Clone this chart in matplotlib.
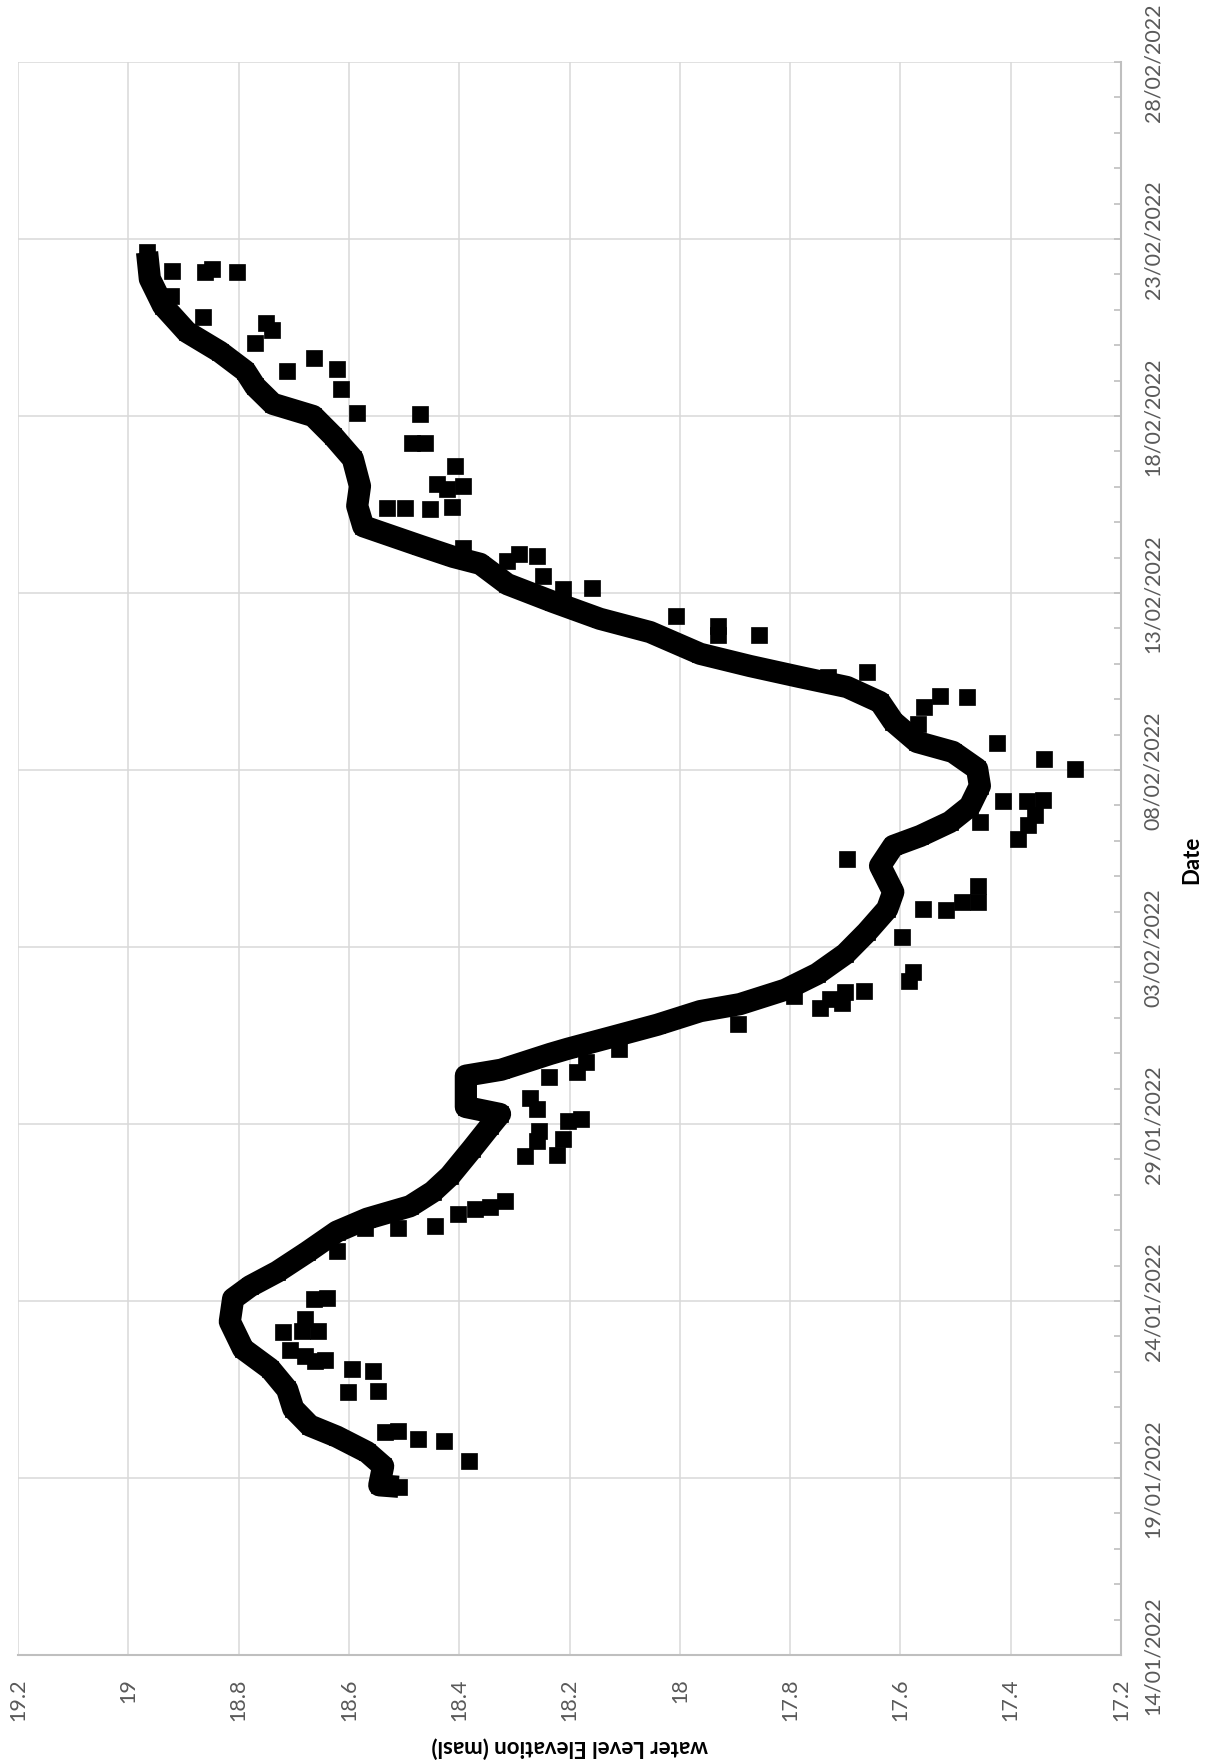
import matplotlib
matplotlib.use("Agg")
import matplotlib.pyplot as plt
import matplotlib.dates as mdates
import matplotlib.ticker as mticker
import pandas as pd

# continuous logger record (masl)
trace_time = [
    "2022-01-18 18:00", "2022-01-18 19:00", "2022-01-19 08:00", "2022-01-19 17:30",
    "2022-01-20 04:00", "2022-01-20 11:30", "2022-01-20 23:00", "2022-01-21 12:00",
    "2022-01-22 02:00", "2022-01-22 15:30", "2022-01-23 10:00", "2022-01-24 01:30",
    "2022-01-24 10:00", "2022-01-24 19:45", "2022-01-25 09:00", "2022-01-25 23:00",
    "2022-01-26 07:45", "2022-01-26 16:15", "2022-01-27 02:00", "2022-01-27 12:45",
    "2022-01-28 07:00", "2022-01-28 22:30", "2022-01-29 06:45", "2022-01-29 11:30",
    "2022-01-30 08:45", "2022-01-30 12:45", "2022-01-30 23:30", "2022-01-31 03:00",
    "2022-01-31 11:00", "2022-01-31 19:15", "2022-02-01 04:30", "2022-02-01 09:15",
    "2022-02-01 19:00", "2022-02-02 05:45", "2022-02-02 19:15", "2022-02-03 10:00",
    "2022-02-04 01:45", "2022-02-04 13:15", "2022-02-05 07:00", "2022-02-05 20:30",
    "2022-02-06 03:15", "2022-02-06 12:45", "2022-02-06 23:30", "2022-02-07 13:15",
    "2022-02-08 00:45", "2022-02-08 12:15", "2022-02-08 19:00", "2022-02-09 08:45",
    "2022-02-09 22:00", "2022-02-10 08:15", "2022-02-10 15:00", "2022-02-10 22:30",
    "2022-02-11 06:45", "2022-02-11 21:30", "2022-02-12 06:30", "2022-02-12 18:00",
    "2022-02-13 06:00", "2022-02-13 19:45", "2022-02-14 00:30", "2022-02-14 08:00",
    "2022-02-14 21:15", "2022-02-15 11:00", "2022-02-16 00:30", "2022-02-16 19:00",
    "2022-02-17 10:30", "2022-02-18 00:00", "2022-02-18 08:15", "2022-02-18 20:00",
    "2022-02-19 06:30", "2022-02-19 19:30", "2022-02-20 09:00", "2022-02-21 02:45",
    "2022-02-21 21:00", "2022-02-22 15:00",
]
trace_level = [
    18.510, 18.545, 18.538, 18.567,
    18.622, 18.671, 18.701, 18.712,
    18.743, 18.792, 18.816, 18.810,
    18.779, 18.730, 18.676, 18.622,
    18.567, 18.489, 18.448, 18.417,
    18.377, 18.344, 18.326, 18.388,
    18.388, 18.324, 18.235, 18.203,
    18.123, 18.041, 17.963, 17.891,
    17.809, 17.751, 17.700, 17.661,
    17.624, 17.613, 17.637, 17.613,
    17.564, 17.510, 17.474, 17.456,
    17.461, 17.505, 17.570, 17.613,
    17.637, 17.697, 17.782, 17.873,
    17.963, 18.054, 18.145, 18.230,
    18.313, 18.362, 18.411, 18.471,
    18.574, 18.585, 18.580, 18.593,
    18.629, 18.665, 18.738, 18.770,
    18.788, 18.834, 18.894, 18.937,
    18.961, 18.966,
]

# scattered readings off the main record
spike_time = [
    "2022-01-24 01:30", "2022-01-24 02:00", "2022-01-23 11:45", "2022-01-23 03:00",
    "2022-01-23 03:30", "2022-01-23 03:45", "2022-01-22 15:00", "2022-01-22 10:45",
    "2022-01-22 07:30", "2022-01-22 07:45", "2022-01-22 02:00", "2022-01-22 00:30",
    "2022-01-21 10:15", "2022-01-21 11:00", "2022-01-20 07:15", "2022-01-20 07:30",
    "2022-01-20 02:30", "2022-01-20 01:15", "2022-01-19 11:30",
    "2022-01-28 02:30", "2022-01-28 02:45", "2022-01-26 19:45", "2022-01-26 11:00",
    "2022-01-26 14:30", "2022-01-26 15:45", "2022-01-26 03:00", "2022-01-26 01:30",
    "2022-01-26 01:15", "2022-01-25 09:45",
    "2022-01-28 14:00", "2022-01-28 19:15", "2022-01-28 12:30", "2022-01-29 02:00",
    "2022-01-29 03:15", "2022-01-29 17:30", "2022-01-29 10:00", "2022-01-30 08:00",
    "2022-01-30 11:15", "2022-01-30 18:00", "2022-01-31 03:00", "2022-01-31 19:45",
    "2022-02-01 06:45",
    "2022-02-05 11:45", "2022-02-04 17:15", "2022-02-04 06:30", "2022-02-04 06:45",
    "2022-02-04 01:15", "2022-02-04 01:45", "2022-02-03 06:45", "2022-02-02 07:00",
    "2022-02-02 01:00", "2022-02-01 18:15", "2022-02-01 17:30", "2022-02-01 10:00",
    "2022-02-01 12:45", "2022-02-01 15:00",
    "2022-02-10 18:30", "2022-02-09 18:45", "2022-02-10 02:15", "2022-02-10 01:30",
    "2022-02-09 07:15", "2022-02-08 18:15", "2022-02-08 07:30", "2022-02-08 00:45",
    "2022-02-07 03:00", "2022-02-07 03:15", "2022-02-07 03:30", "2022-02-06 17:30",
    "2022-02-06 10:45", "2022-02-06 01:15", "2022-02-06 12:45", "2022-02-10 15:00",
    "2022-02-14 06:30", "2022-02-13 21:30", "2022-02-14 02:30", "2022-02-14 01:15",
    "2022-02-13 11:30", "2022-02-13 02:45", "2022-02-13 03:15", "2022-02-12 08:30",
    "2022-02-12 01:45", "2022-02-11 19:30", "2022-02-11 19:45",
    "2022-02-22 01:45", "2022-02-22 03:30", "2022-02-22 01:30", "2022-02-21 09:15",
    "2022-02-20 19:15", "2022-02-20 15:00", "2022-02-20 10:15", "2022-02-20 01:30",
    "2022-02-19 15:15", "2022-02-19 08:00", "2022-02-18 18:15", "2022-02-18 02:00",
    "2022-02-18 01:30", "2022-02-17 05:45", "2022-02-17 06:00", "2022-02-16 14:15",
    "2022-02-16 02:00", "2022-02-15 22:30", "2022-02-16 00:30", "2022-02-15 09:30",
    "2022-02-15 09:45", "2022-02-15 09:00", "2022-02-15 10:15", "2022-02-19 06:30",
    "2022-02-22 02:30",
]
spike_level = [
    18.663, 18.640, 18.680, 18.720,
    18.685, 18.656, 18.707, 18.680,
    18.661, 18.643, 18.594, 18.556,
    18.602, 18.547, 18.535, 18.511,
    18.475, 18.428, 18.382,
    18.281, 18.223, 18.317, 18.402,
    18.371, 18.344, 18.444, 18.511,
    18.571, 18.622,
    18.212, 18.255, 18.259, 18.203,
    18.179, 18.272, 18.259, 18.237,
    18.186, 18.170, 18.110, 17.894,
    17.746,
    17.697, 17.459, 17.488, 17.459,
    17.517, 17.559, 17.597, 17.577,
    17.584, 17.666, 17.700, 17.706,
    17.728, 17.793,
    17.661, 17.557, 17.528, 17.479,
    17.568, 17.425, 17.340, 17.283,
    17.414, 17.370, 17.341, 17.356,
    17.369, 17.387, 17.456, 17.731,
    18.393, 18.313, 18.292, 18.259,
    18.248, 18.212, 18.159, 18.007,
    17.931, 17.931, 17.856,
    18.861, 18.848, 18.803, 18.923,
    18.865, 18.750, 18.739, 18.770,
    18.663, 18.622, 18.614, 18.585,
    18.471, 18.486, 18.462, 18.408,
    18.440, 18.422, 18.393, 18.531,
    18.498, 18.453, 18.413, 18.712,
    18.921,
]

level_ticks = [19.2, 19.0, 18.8, 18.6, 18.4, 18.2, 18.0, 17.8, 17.6, 17.4, 17.2]
date_ticks = pd.date_range("2022-01-14", "2022-02-28", freq="5D")

trace_t = pd.to_datetime(trace_time)
spike_t = pd.to_datetime(spike_time)

GREY_TXT = "#595959"
GRID = "#d9d9d9"
AXIS = "#bfbfbf"
FONT = "Lato"

fig = plt.figure(figsize=(12.10, 17.65), dpi=100)
ax = fig.add_axes([0.0149, 0.0618, 0.9116, 0.9025])

# level runs along x (high on the left), time runs upward
ax.plot(trace_level, trace_t, "-", color="black", lw=16,
        solid_joinstyle="round", solid_capstyle="butt", zorder=3)
ax.plot(trace_level, trace_t, "s", color="black", ms=11, mew=0.5, zorder=3)
ax.plot(spike_level, spike_t, "s", color="black", ms=11, mew=0.5,
        linestyle="none", zorder=3)

ax.set_xlim(19.2, 17.2)
ax.set_xticks(level_ticks)
ax.xaxis.set_major_formatter(mticker.FuncFormatter(lambda v, p: f"{round(v, 1):g}"))
ax.set_ylim(date_ticks[0], date_ticks[-1])
ax.set_yticks(date_ticks)
ax.yaxis.set_major_formatter(mdates.DateFormatter("%d/%m/%Y"))
ax.yaxis.set_minor_locator(mdates.DayLocator())
ax.yaxis.tick_right()

ax.grid(True, which="major", color=GRID, lw=1.1, zorder=0)
ax.set_axisbelow(True)

for side in ("left", "top"):
    ax.spines[side].set_visible(False)
for side in ("right", "bottom"):
    ax.spines[side].set_color(AXIS)
    ax.spines[side].set_linewidth(1.5)

ax.tick_params(axis="x", length=0, pad=16, labelsize=15.5, labelcolor=GREY_TXT,
               labelrotation=90)
ax.tick_params(axis="y", which="both", direction="in", length=5, color=AXIS,
               width=1.2, pad=16, labelsize=15.5, labelcolor=GREY_TXT)
for lab in ax.get_xticklabels():
    lab.set_fontfamily(FONT)
    lab.set_va("top")
for lab in ax.get_yticklabels():
    lab.set_fontfamily(FONT)
    lab.set_rotation(90)
    lab.set_va("center")

fig.text(570 / 1210, 1 - 1747 / 1765, "water Level Elevation (masl)", rotation=180,
         ha="center", va="center", fontsize=16, fontweight="bold", family=FONT)
fig.text(1192 / 1210, 1 - 860 / 1765, "Date", rotation=90, ha="center", va="center",
         fontsize=16, fontweight="bold", family=FONT)

fig.savefig("out.png", dpi=100)
